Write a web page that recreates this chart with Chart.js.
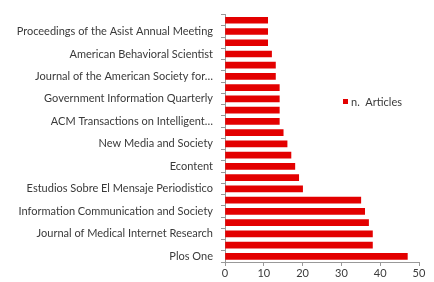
<!DOCTYPE html>
<html>
<head>
<meta charset="utf-8">
<script src="https://cdn.jsdelivr.net/npm/chart.js@4.4.0/dist/chart.umd.min.js"></script>
<style>
  html, body { margin: 0; padding: 0; background: #fff; }
  #wrap { width: 434px; height: 282px; position: relative; }
</style>
</head>
<body>
<div id="wrap"><canvas id="chart"></canvas></div>
<script>
// revues, de haut en bas (une sur deux a une etiquette visible)
const journals = [
  'Social Science Computer Review',
  'Proceedings of the Asist Annual Meeting',
  'First Monday',
  'American Behavioral Scientist',
  'Online Information Review',
  'Journal of the American Society for\u2026',
  'Journal of Computer-Mediated Communication',
  'Government Information Quarterly',
  'Computers in Human Behavior',
  'ACM Transactions on Intelligent\u2026',
  'Scientometrics',
  'New Media and Society',
  'Profesional de la Informacion',
  'Econtent',
  'Comunicar',
  'Estudios Sobre El Mensaje Periodistico',
  'Cyberpsychology Behavior and Social Networking',
  'Information Communication and Society',
  'Lecture Notes in Computer Science',
  'Journal of Medical Internet Research',
  'Social Network Analysis and Mining',
  'Plos One'
];
const nArticles = [11, 11, 11, 12, 13, 13, 14, 14, 14, 14, 15, 16, 17, 18, 19, 20, 35, 36, 37, 38, 38, 47];
const xTicks = [0, 10, 20, 30, 40, 50];
const seriesLabel = 'n.  Articles';

const RED = '#e30000';
const TXT = '#3a3a3a';
const FONT = 'Lato, "Open Sans", sans-serif';

// legende facon Excel, posee dans la zone du graphe
const legendPlugin = {
  id: 'xlLegend',
  afterDraw: function(chart) {
    const ctx = chart.ctx;
    ctx.save();
    ctx.fillStyle = RED;
    ctx.fillRect(343, 99, 5, 5);
    ctx.fillStyle = TXT;
    ctx.font = '11px ' + FONT;
    ctx.textBaseline = 'middle';
    ctx.fillText(chart.data.datasets[0].label, 351, 102);
    ctx.restore();
  }
};

new Chart(document.getElementById('chart').getContext('2d'), {
  type: 'bar',
  data: {
    labels: journals,
    datasets: [{
      label: seriesLabel,
      data: nArticles,
      backgroundColor: RED,
      barThickness: 6
    }]
  },
  plugins: [legendPlugin],
  options: {
    indexAxis: 'y',
    responsive: true, maintainAspectRatio: false,
    animation: false,
    layout: { padding: { top: 12, right: 15, left: 0, bottom: 0 } },
    scales: {
      x: {
        min: 0, max: 50,
        afterBuildTicks: function(s) { s.ticks = xTicks.map(function(v) { return { value: v }; }); },
        afterFit: function(s) { s.height = 20; },
        grid: { drawOnChartArea: false, drawTicks: true, tickLength: 4, color: '#999' },
        border: { display: true, color: '#999' },
        ticks: { color: TXT, font: { size: 11, family: FONT }, padding: 1 }
      },
      y: {
        afterFit: function(s) { s.width = 225; },
        grid: { drawOnChartArea: false, drawTicks: true, tickLength: 4, offset: true, color: '#999' },
        border: { display: true, color: '#999' },
        ticks: {
          autoSkip: false, color: TXT, font: { size: 11, family: FONT }, padding: 8,
          callback: function(v, i) { return i % 2 === 1 ? this.getLabelForValue(v) : ''; }
        }
      }
    },
    plugins: { legend: { display: false }, tooltip: { enabled: false } }
  }
});
</script>
</body>
</html>
